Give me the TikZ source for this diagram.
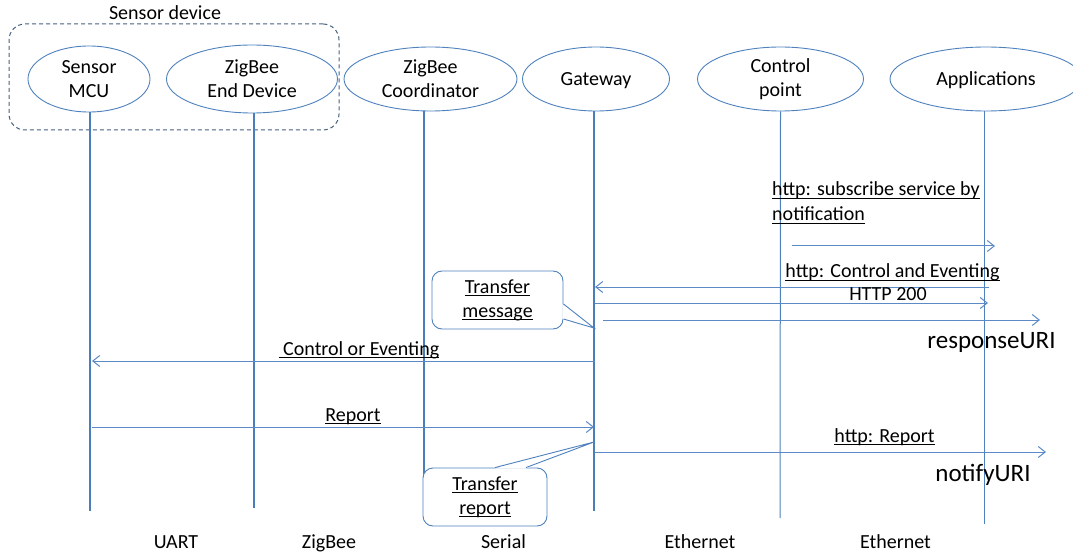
\documentclass[tikz,border=0pt]{standalone}
\usepackage{fontspec}
\setmainfont{Carlito}
\usetikzlibrary{shapes.geometric,arrows.meta}
\definecolor{ellblue}{HTML}{4F81BD}
\definecolor{lifeblue}{HTML}{4A7EBB}
\definecolor{msgblue}{HTML}{5B8AC6}
\definecolor{framegray}{HTML}{46607F}
% underline at a fixed distance below the baseline
\newcommand\undl[1]{\leavevmode\setbox0=\hbox{#1}\rlap{\vrule height -1.8pt depth 3.2pt width \wd0}\box0}

\begin{document}
\begin{tikzpicture}[x=1pt,y=-1pt,
  every node/.style={font=\fontsize{20}{24}\selectfont, text=black},
  actor/.style={ellipse, draw=ellblue, line width=0.9pt, inner sep=0pt, align=center},
  lifeline/.style={draw=lifeblue, line width=2pt},
  thinlife/.style={draw=ellblue, line width=1pt},
  msgarrow/.style={draw=msgblue, line width=1pt, -{Straight Barb[length=7pt,width=11pt]}},
  msglabel/.style={anchor=base, inner sep=0pt},
  biglabel/.style={anchor=base, inner sep=0pt, font=\fontsize{25}{30}\selectfont},
  note/.style={draw=ellblue, line width=0.9pt, rounded corners=10pt, fill=white, inner sep=0pt, align=center},
  tail/.style={draw=ellblue, line width=0.9pt},
  devframe/.style={draw=framegray, line width=1pt, dash pattern=on 4pt off 3pt, rounded corners=16pt, inner sep=0pt}
]
\useasboundingbox (0,0) rectangle (1073,553);

% sensor device grouping
\node[devframe, minimum width=330, minimum height=106] (sensordev) at (174,77) {};
\node[anchor=base, inner sep=0pt] (sdlabel) at (165,20) {Sensor device};

% participants
\node[actor, minimum width=122, minimum height=66] (mcu)   at (89,79)    {Sensor\\MCU};
\node[actor, minimum width=171, minimum height=68] (ed)    at (252,79)   {ZigBee\\End Device};
\node[actor, minimum width=173, minimum height=64] (coord) at (430.5,79) {ZigBee\\Coordinator};
\node[actor, minimum width=147, minimum height=64, text depth=0pt] (gw) at (596,79) {Gateway};
\node[actor, minimum width=166, minimum height=64] (cp)    at (780.5,79) {Control\\point};
\node[actor, minimum width=192, minimum height=64, text depth=0pt] (app) at (986,79) {Applications};

% lifeline ends
\coordinate (mcuEnd)   at (90,511);
\coordinate (edEnd)    at (254,508);
\coordinate (coordEnd) at (424,508);
\coordinate (gwEnd)    at (594,511);
\coordinate (cpEnd)    at (780,518);
\coordinate (appEnd)   at (984,524);

\draw[lifeline] ([xshift=1pt]mcu.south) -- (mcuEnd);
\draw[lifeline] ([xshift=2pt]ed.south) -- (edEnd);
\draw[lifeline] ([xshift=-6.5pt]coord.south) -- (coordEnd);
\draw[lifeline] ([xshift=-2pt]gw.south) -- (gwEnd);
\draw[thinlife] (cp.south) -- (cpEnd);
\draw[thinlife] ([xshift=-2pt]app.south) -- (appEnd);

% message end points
\coordinate (subA)  at (792,246);
\coordinate (subB)  at (995,246);
\coordinate (ceA)   at (989,287);
\coordinate (ceB)   at (595,287);
\coordinate (okA)   at (595,303);
\coordinate (okB)   at (988,303);
\coordinate (rsA)   at (603,320);
\coordinate (rsB)   at (1040,320);
\coordinate (coeA)  at (595,361);
\coordinate (coeB)  at (92,361);
\coordinate (repA)  at (92,427);
\coordinate (repB)  at (594,427);
\coordinate (hrA)   at (595,452);
\coordinate (hrB)   at (1046,452);

% messages
\draw[msgarrow] (subA) -- (subB);
\draw[msgarrow] (ceA) -- (ceB);
\draw[msgarrow] (okA) -- (okB);
\draw[msgarrow] (rsA) -- (rsB);
\draw[msgarrow] (coeA) -- (coeB);
\draw[msgarrow] (repA) -- (repB);
\draw[msgarrow] (hrA) -- (hrB);

% message labels
\node[anchor=base west, inner sep=0pt] (lsub1) at (772,196) {\undl{http: subscribe service by}};
\node[anchor=base west, inner sep=0pt] (lsub2) at (772,221) {\undl{notification}};
\node[msglabel] (lce)  at (892.5,278) {\undl{http: Control and Eventing}};
\node[msglabel] (lok)  at (888,300)   {HTTP 200};
\node[biglabel] (lrs)  at (991.5,348) {responseURI};
\node[msglabel] (lcoe) at (359,355)   {\undl{\ Control or Eventing}};
\node[msglabel] (lrep) at (353,421)   {\undl{Report}};
\node[msglabel] (lhr)  at (884.5,442) {\undl{http: Report}};
\node[biglabel] (lnu)  at (983,481)   {notifyURI};

% callouts
\node[note, minimum width=131, minimum height=58] (notemsg) at (497.5,300) {\undl{Transfer}\\\undl{message}};
\coordinate (tipmsg) at (594,328);
\fill[white] ([yshift=-4pt,xshift=-1pt]notemsg.east) -- (tipmsg) -- ([yshift=-19pt,xshift=-1pt]notemsg.east) -- cycle;
\draw[tail] ([yshift=-4pt]notemsg.east) -- (tipmsg) -- ([yshift=-19pt]notemsg.east);

\node[note, minimum width=124, minimum height=58] (noterep) at (485,497) {\undl{Transfer}\\\undl{report}};
\coordinate (tiprep) at (594,442);
\fill[white] ([xshift=10pt,yshift=-1pt]noterep.north) -- (tiprep) -- ([xshift=41pt,yshift=-1pt]noterep.north) -- cycle;
\draw[tail] ([xshift=10pt]noterep.north) -- (tiprep) -- ([xshift=41pt]noterep.north);

% link types
\node[anchor=base, inner sep=0pt] (lkuart) at (176,548)   {UART};
\node[anchor=base, inner sep=0pt] (lkzb)   at (329,548)   {ZigBee};
\node[anchor=base, inner sep=0pt] (lkser)  at (503.5,548) {Serial};
\node[anchor=base, inner sep=0pt] (lketh1) at (700,548)   {Ethernet};
\node[anchor=base, inner sep=0pt] (lketh2) at (895.5,548) {Ethernet};
\end{tikzpicture}
\end{document}
